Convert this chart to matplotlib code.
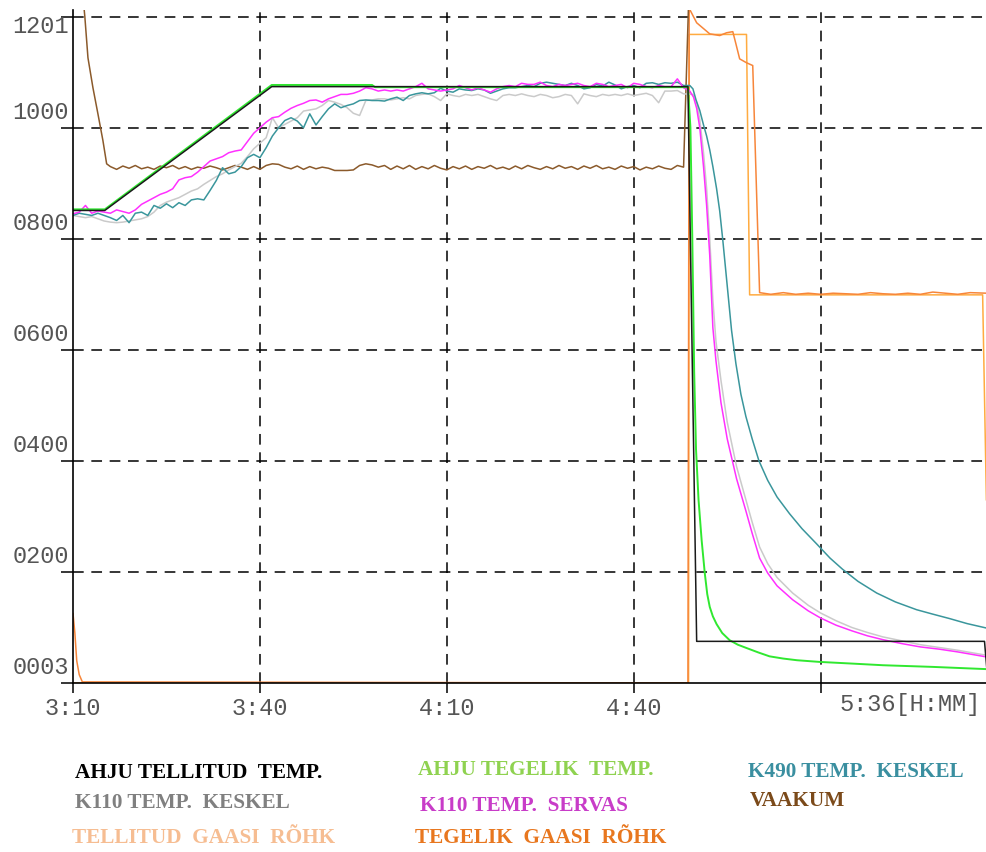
import numpy as np
import matplotlib
matplotlib.use("Agg")
import matplotlib.pyplot as plt
from matplotlib.transforms import blended_transform_factory

# time axis in minutes after 3:10
minutes = np.arange(0, 99)

# furnace setpoint / actual temperature (breakpoints)
setpoint_t = [0, 5.1, 31.9, 98.7, 100.1, 146.3, 146.7]
setpoint_v = [851, 851, 1074, 1074, 75, 75, 22]

furnace_t = [0, 5.1, 31.9, 48.0, 48.5, 98.7, 99.1, 99.4, 99.7, 100.0, 100.4, 100.9,
             101.4, 101.8, 102.2, 102.7, 103.3, 104.2, 105.4, 106.7, 108.1, 110.0,
             111.8, 114.0, 116.2, 119.8, 125.0, 130.0, 138.0, 146.6]
furnace_v = [853, 853, 1077, 1077, 1073, 1073, 1000, 800, 560, 420, 330, 257,
             198, 160, 137, 120, 106, 90, 77, 69, 63, 55,
             48, 44, 41, 38, 35, 32, 29, 25]

# K490 centre
k490_main = [842, 846, 844, 842, 846, 842, 838, 833, 842, 829,
             846, 848, 842, 860, 855, 863, 856, 865, 860, 870,
             872, 870, 887, 905, 928, 917, 920, 930, 946, 952,
             946, 964, 985, 1000, 1013, 1018, 1012, 1000, 1025, 1005,
             1020, 1034, 1043, 1036, 1040, 1043, 1049, 1050, 1049, 1049,
             1048, 1052, 1055, 1049, 1058, 1061, 1063, 1061, 1063, 1071,
             1066, 1064, 1070, 1068, 1067, 1070, 1068, 1062, 1066, 1070,
             1072, 1072, 1074, 1076, 1074, 1080, 1082, 1080, 1078, 1076,
             1080, 1076, 1070, 1072, 1078, 1075, 1082, 1077, 1070, 1074,
             1076, 1072, 1080, 1081, 1078, 1081, 1080, 1082, 1076]
k490_cool_t = [99.0, 99.5, 100.0, 100.6, 101.2, 101.7, 102.2, 102.7, 103.3, 103.8,
               104.3, 105.0, 105.7, 106.4, 107.2, 108.0, 109.0, 110.1, 111.5, 113.0,
               115.0, 117.0, 119.4, 121.5, 123.5, 126.0, 129.0, 132.0, 135.4, 138.0,
               140.7, 143.5, 146.6]
k490_cool_v = [1076, 1070, 1050, 1031, 1005, 985, 960, 930, 890, 850,
               797, 715, 635, 575, 520, 480, 440, 400, 365, 335,
               305, 278, 250, 225, 205, 183, 162, 146, 132, 124,
               116, 107, 99]

# K110 centre
k110c_main = [842, 840, 838, 840, 836, 832, 830, 829, 830, 832,
              834, 836, 840, 848, 860, 866, 870, 874, 880, 886,
              890, 898, 905, 912, 917, 924, 930, 936, 948, 962,
              972, 982, 1018, 1000, 1006, 1012, 1018, 1030, 1032, 1034,
              1040, 1049, 1046, 1042, 1036, 1026, 1022, 1049, 1050, 1052,
              1052, 1050, 1052, 1054, 1052, 1058, 1060, 1061, 1056, 1049,
              1061, 1058, 1056, 1060, 1058, 1060, 1056, 1052, 1049, 1058,
              1060, 1058, 1061, 1058, 1056, 1060, 1058, 1054, 1056, 1060,
              1058, 1043, 1061, 1058, 1056, 1060, 1058, 1060, 1058, 1061,
              1058, 1060, 1062, 1058, 1045, 1066, 1066, 1067, 1061]
k110c_cool_t = [99.5, 100.1, 100.6, 101.2, 101.7, 102.2, 102.7, 103.2, 104.0, 105.0,
                106.5, 108.0, 109.0, 110.2, 111.5, 113.0, 115.5, 118.0, 120.0, 122.5,
                125.0, 127.5, 130.0, 133.0, 136.0, 139.0, 142.0, 146.6]
k110c_cool_v = [1060, 1045, 1015, 955, 890, 800, 690, 615, 545, 470,
                390, 330, 290, 245, 215, 190, 162, 140, 126, 112,
                100, 91, 83, 76, 69, 64, 59, 50]

# K110 edge
k110e_main = [845, 848, 860, 846, 850, 848, 846, 852, 849, 846,
              852, 862, 868, 874, 880, 884, 890, 906, 910, 912,
              920, 930, 940, 944, 948, 955, 958, 960, 975, 990,
              1000, 1010, 1018, 1020, 1028, 1035, 1040, 1044, 1049, 1050,
              1046, 1052, 1056, 1060, 1060, 1062, 1066, 1072, 1070, 1066,
              1068, 1066, 1068, 1066, 1070, 1074, 1080, 1070, 1068, 1066,
              1068, 1070, 1076, 1072, 1068, 1072, 1068, 1064, 1070, 1074,
              1076, 1074, 1080, 1078, 1078, 1082, 1076, 1074, 1078, 1076,
              1078, 1080, 1076, 1074, 1080, 1078, 1074, 1076, 1078, 1072,
              1080, 1078, 1074, 1072, 1076, 1074, 1074, 1088, 1072]
k110e_cool_t = [99.0, 99.6, 100.1, 100.6, 101.2, 101.7, 102.2, 102.7, 103.2, 104.0,
                105.0, 106.5, 108.0, 109.0, 110.2, 111.5, 113.0, 115.5, 118.0, 120.0,
                122.5, 125.0, 127.5, 130.0, 133.0, 136.0, 139.0, 142.0, 146.6]
k110e_cool_v = [1066, 1055, 1035, 1000, 930, 860, 770, 640, 580, 505,
                440, 368, 310, 270, 225, 198, 175, 150, 130, 117,
                104, 94, 85, 78, 71, 65, 61, 56, 47]

# vacuum
vacuum_t = [1.4, 1.9, 2.4, 3.2, 4.0, 4.8, 5.4] + list(range(6, 99)) + [98.9]
vacuum_v = [1260, 1200, 1126, 1072, 1025, 977, 935,
            930, 925, 931, 927, 932, 926, 929, 925, 931, 928,
            932, 926, 930, 925, 929, 927, 931, 928, 924, 928,
            932, 929, 925, 930, 925, 932, 935, 934, 929, 926,
            931, 925, 930, 926, 929, 927, 923, 923, 923, 924,
            932, 935, 933, 929, 932, 925, 931, 926, 932, 925,
            930, 926, 932, 927, 924, 930, 926, 931, 925, 930,
            927, 932, 926, 929, 925, 931, 926, 932, 928, 925,
            930, 926, 932, 927, 930, 925, 931, 927, 932, 926,
            929, 925, 931, 927, 930, 924, 929, 926, 931, 927,
            925, 932, 929, 1260]

# gas pressure setpoint / actual
gas_set_t = [0, 98.8, 98.9, 108.1, 108.6, 146.0, 146.6]
gas_set_v = [0, 0, 1168, 1168, 699, 699, 330]

gas_act_t = [0, 0.3, 0.6, 1.0, 1.5, 98.7, 98.9, 100.1, 102.2, 103.8, 104.9, 105.9,
             106.4, 107.0, 108.1, 109.1, 110.2, 112.0, 114.0, 116.0, 118.0, 120.0,
             122.0, 124.0, 126.0, 128.0, 130.0, 132.0, 134.0, 136.0, 138.0, 140.0,
             142.0, 144.0, 146.6]
gas_act_v = [125, 90, 40, 15, 2, 0, 1215, 1189, 1169, 1166, 1171, 1173,
             1151, 1124, 1117, 1112, 703, 700, 703, 700, 702, 700,
             702, 701, 700, 703, 701, 700, 702, 700, 704, 702,
             700, 703, 702]

grid_levels = [0, 200, 400, 600, 800, 1000, 1200]
ytick_text = ["0003", "0200", "0400", "0600", "0800", "1000", "1201"]
xtick_pos = [0, 30, 60, 90, 120]
xtick_text = ["3:10", "3:40", "4:10", "4:40", ""]

legend_rows = [
    ("AHJU TELLITUD  TEMP.", "#000000", 75, 773),
    ("AHJU TEGELIK  TEMP.", "#8fd250", 418, 770),
    ("K490 TEMP.  KESKEL", "#3a8fa0", 748, 772),
    ("K110 TEMP.  KESKEL", "#808080", 75, 803),
    ("K110 TEMP.  SERVAS", "#c83cc8", 420, 806),
    ("VAAKUM", "#7b4a1a", 750, 801),
    ("TELLITUD  GAASI  RÕHK", "#f6bd92", 72, 838),
    ("TEGELIK  GAASI  RÕHK", "#e8771f", 415, 838),
]

W, H = 987, 852
fig = plt.figure(figsize=(W / 100, H / 100), dpi=100)
ax = fig.add_axes([73 / W, (H - 683) / H, (W - 73) / W, 673 / H])
ax.set_xlim(0, 146.7)
ax.set_ylim(0, 1212)

for lv in grid_levels[1:]:
    ax.axhline(lv, color="black", lw=1.1, dashes=(7, 5), zorder=1)
for xp in xtick_pos[1:]:
    ax.axvline(xp, color="black", lw=1.1, dashes=(7, 5), zorder=1)

lw = 1.1
ax.plot(gas_set_t, gas_set_v, color="#ffab40", lw=lw, zorder=2)
ax.plot(gas_act_t, gas_act_v, color="#f7863a", lw=lw, zorder=3)
ax.plot(vacuum_t, vacuum_v, color="#8b5a2b", lw=lw, zorder=3)
ax.plot(list(minutes) + k110c_cool_t, k110c_main + k110c_cool_v, color="#cacaca", lw=lw, zorder=4)
ax.plot(list(minutes) + k490_cool_t, k490_main + k490_cool_v, color="#3a969c", lw=lw, zorder=5)
ax.plot(list(minutes) + k110e_cool_t, k110e_main + k110e_cool_v, color="#ff30ff", lw=lw, zorder=6)
ax.plot(furnace_t, furnace_v, color="#30e830", lw=1.4, zorder=7)
ax.plot(setpoint_t, setpoint_v, color="#1a1a1a", lw=lw, zorder=8)

for side in ("top", "right"):
    ax.spines[side].set_visible(False)
for side in ("left", "bottom"):
    ax.spines[side].set_linewidth(1.2)
    ax.spines[side].set_zorder(9)

ax.set_yticks(grid_levels)
ax.set_yticklabels([])
ax.set_xticks(xtick_pos)
ax.set_xticklabels(xtick_text, fontfamily="Liberation Mono", fontsize=17, color="#555555")
ax.tick_params(axis="y", length=9, width=1.1, color="black")
ax.tick_params(axis="x", length=7, width=1.1, color="black", pad=3)

ytf = blended_transform_factory(ax.transAxes, ax.transData)
for lv, txt in zip(grid_levels, ytick_text):
    off = -10 if lv == 1200 else 15
    ax.annotate(txt, xy=(0, lv), xycoords=ytf, xytext=(-4, off), textcoords="offset pixels",
                ha="right", va="center", fontfamily="Liberation Mono", fontsize=17,
                color="#555555", annotation_clip=False)

ax.annotate("5:36[H:MM]", xy=(1.0, 0), xycoords="axes fraction", xytext=(-6, -22),
            textcoords="offset pixels", ha="right", va="center",
            fontfamily="Liberation Mono", fontsize=17, color="#555555", annotation_clip=False)

for label, col, px, py in legend_rows:
    fig.text(px / W, 1 - py / H, label, color=col, fontfamily="Liberation Serif",
             fontweight="bold", fontsize=15.3, ha="left", va="center")

fig.savefig("out.png", dpi=100)
